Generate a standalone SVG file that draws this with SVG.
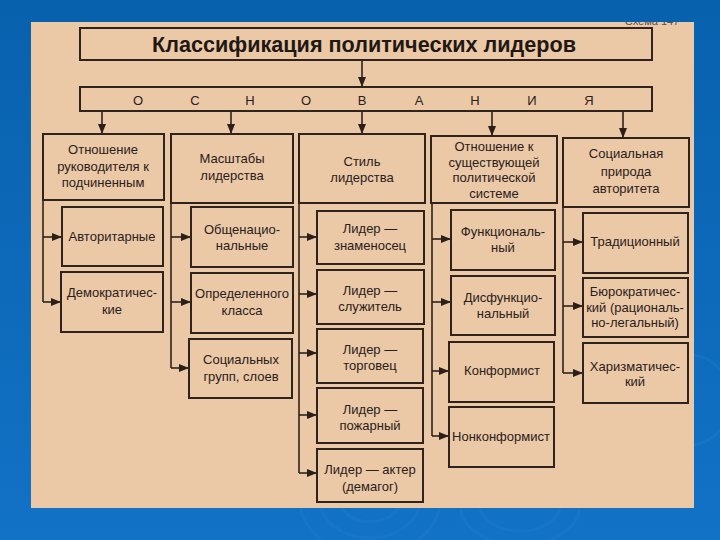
<svg xmlns="http://www.w3.org/2000/svg" width="720" height="540" viewBox="0 0 720 540">
<defs>
<linearGradient id="bg" x1="0" y1="0" x2="0" y2="1">
<stop offset="0" stop-color="#0861ad"/>
<stop offset="1" stop-color="#1272c6"/>
</linearGradient>
<marker id="ah" viewBox="0 0 10 8" refX="10" refY="4" markerWidth="11" markerHeight="8" markerUnits="userSpaceOnUse" orient="auto">
<path d="M0,0 L10,4 L0,8 Z" fill="#2a1f1a"/>
</marker>
<clipPath id="paperclip"><rect x="31" y="22" width="663" height="486"/></clipPath>
<style>
.box{fill:none;stroke:#2f231d;stroke-width:2}
.con{fill:none;stroke:#2f231d;stroke-width:1.6}
.arr{fill:none;stroke:#2f231d;stroke-width:1.6;marker-end:url(#ah)}
.t{font-family:"Liberation Sans","DejaVu Sans",sans-serif;font-size:13px;fill:#2a201b;text-anchor:middle}
.lt{font-family:"Liberation Sans","DejaVu Sans",sans-serif;font-size:13px;fill:#2a201b;text-anchor:middle}
.swirl{fill:none;stroke:#3a8ad6;stroke-width:3;opacity:0.18}
</style>
</defs>
<rect x="0" y="0" width="720" height="540" fill="url(#bg)"/>
<g id="swirls">
<ellipse class="swirl" cx="370" cy="500" rx="70" ry="55"/>
<ellipse class="swirl" cx="370" cy="500" rx="50" ry="38"/>
<ellipse class="swirl" cx="370" cy="500" rx="30" ry="22"/>
<ellipse class="swirl" cx="520" cy="505" rx="60" ry="40"/>
<ellipse class="swirl" cx="520" cy="505" rx="40" ry="26"/>
<ellipse class="swirl" cx="690" cy="400" rx="40" ry="45"/>
</g>
<rect id="paper" x="31" y="22" width="663" height="486" fill="#ebc9a7"/>
<g clip-path="url(#paperclip)">
<text x="652" y="25" style="font-family:'Liberation Sans',sans-serif;font-size:11px;fill:#5a4a54;text-anchor:middle">Схема 147</text>
</g>

<g id="title">
<rect class="box" x="80" y="28" width="572" height="32"/>
<text x="364" y="52" textLength="424" lengthAdjust="spacingAndGlyphs" style="font-family:'Liberation Sans',sans-serif;font-size:22px;font-weight:bold;fill:#1f1814;text-anchor:middle">Классификация политических лидеров</text>
</g>
<g id="osnovaniya">
<rect class="box" x="80" y="87" width="572" height="24"/>
<text class="lt" x="138" y="105">О</text>
<text class="lt" x="195" y="105">С</text>
<text class="lt" x="250" y="105">Н</text>
<text class="lt" x="306" y="105">О</text>
<text class="lt" x="362" y="105">В</text>
<text class="lt" x="419" y="105">А</text>
<text class="lt" x="475" y="105">Н</text>
<text class="lt" x="532" y="105">И</text>
<text class="lt" x="589" y="105">Я</text>
</g>

<g id="connectors">
<line class="arr" x1="362" y1="60" x2="362" y2="87"/>
<line class="arr" x1="102" y1="111" x2="102" y2="134"/>
<line class="arr" x1="231" y1="111" x2="231" y2="134"/>
<line class="arr" x1="362" y1="111" x2="362" y2="134"/>
<line class="arr" x1="492" y1="111" x2="492" y2="136"/>
<line class="arr" x1="623" y1="111" x2="623" y2="138"/>
<line class="con" x1="43" y1="200" x2="43" y2="302"/>
<line class="arr" x1="43" y1="237" x2="62" y2="237"/>
<line class="arr" x1="43" y1="302" x2="61" y2="302"/>
<line class="con" x1="171" y1="203" x2="171" y2="368"/>
<line class="arr" x1="171" y1="237" x2="191" y2="237"/>
<line class="arr" x1="171" y1="302" x2="191" y2="302"/>
<line class="arr" x1="171" y1="368" x2="189" y2="368"/>
<line class="con" x1="299" y1="203" x2="299" y2="473"/>
<line class="arr" x1="299" y1="237" x2="317" y2="237"/>
<line class="arr" x1="299" y1="294" x2="317" y2="294"/>
<line class="arr" x1="299" y1="353" x2="317" y2="353"/>
<line class="arr" x1="299" y1="415" x2="317" y2="415"/>
<line class="arr" x1="299" y1="473" x2="317" y2="473"/>
<line class="con" x1="432" y1="203" x2="432" y2="436"/>
<line class="arr" x1="432" y1="239" x2="451" y2="239"/>
<line class="arr" x1="432" y1="302" x2="451" y2="302"/>
<line class="arr" x1="432" y1="371" x2="449" y2="371"/>
<line class="arr" x1="432" y1="436" x2="449" y2="436"/>
<line class="con" x1="563" y1="207" x2="563" y2="373"/>
<line class="arr" x1="563" y1="242" x2="583" y2="242"/>
<line class="arr" x1="563" y1="306" x2="583" y2="306"/>
<line class="arr" x1="563" y1="373" x2="583" y2="373"/>
</g>

<g id="cat1">
<rect class="box" x="43" y="134" width="121" height="66"/>
<text class="t" x="103" y="154">Отношение</text>
<text class="t" x="103" y="171">руководителя к</text>
<text class="t" x="103" y="187">подчиненным</text>
</g>
<g id="cat2">
<rect class="box" x="171" y="134" width="122" height="69"/>
<text class="t" x="232" y="163">Масштабы</text>
<text class="t" x="232" y="180">лидерства</text>
</g>
<g id="cat3">
<rect class="box" x="299" y="134" width="126" height="69"/>
<text class="t" x="362" y="166">Стиль</text>
<text class="t" x="362" y="182">лидерства</text>
</g>
<g id="cat4">
<rect class="box" x="431" y="136" width="126" height="67"/>
<text class="t" x="494" y="151">Отношение к</text>
<text class="t" x="494" y="167">существующей</text>
<text class="t" x="494" y="182">политической</text>
<text class="t" x="494" y="198">системе</text>
</g>
<g id="cat5">
<rect class="box" x="563" y="138" width="126" height="69"/>
<text class="t" x="626" y="158">Социальная</text>
<text class="t" x="626" y="176">природа</text>
<text class="t" x="626" y="193">авторитета</text>
</g>

<g id="avtoritarnye">
<rect class="box" x="62" y="207" width="101" height="59"/>
<text class="t" x="112" y="241">Авторитарные</text>
</g>
<g id="demokraticheskie">
<rect class="box" x="61" y="272" width="102" height="60"/>
<text class="t" x="112" y="297">Демократичес-</text>
<text class="t" x="112" y="314">кие</text>
</g>

<g id="obshchenatsionalnye">
<rect class="box" x="191" y="207" width="102" height="60"/>
<text class="t" x="242" y="234">Общенацио-</text>
<text class="t" x="242" y="250">нальные</text>
</g>
<g id="opredelennogo-klassa">
<rect class="box" x="191" y="273" width="102" height="60"/>
<text class="t" x="242" y="298">Определенного</text>
<text class="t" x="242" y="315">класса</text>
</g>
<g id="sotsialnykh-grupp">
<rect class="box" x="189" y="339" width="103" height="59"/>
<text class="t" x="241" y="364">Социальных</text>
<text class="t" x="241" y="381">групп, слоев</text>
</g>

<g id="znamenosets">
<rect class="box" x="317" y="211" width="107" height="53"/>
<text class="t" x="370" y="233">Лидер —</text>
<text class="t" x="370" y="250">знаменосец</text>
</g>
<g id="sluzhitel">
<rect class="box" x="317" y="270" width="107" height="54"/>
<text class="t" x="370" y="295">Лидер —</text>
<text class="t" x="370" y="311">служитель</text>
</g>
<g id="torgovets">
<rect class="box" x="317" y="329" width="106" height="54"/>
<text class="t" x="370" y="354">Лидер —</text>
<text class="t" x="370" y="370">торговец</text>
</g>
<g id="pozharnyy">
<rect class="box" x="317" y="388" width="106" height="55"/>
<text class="t" x="370" y="414">Лидер —</text>
<text class="t" x="370" y="430">пожарный</text>
</g>
<g id="akter">
<rect class="box" x="317" y="449" width="106" height="53"/>
<text class="t" x="370" y="474">Лидер — актер</text>
<text class="t" x="370" y="491">(демагог)</text>
</g>

<g id="funktsionalnyy">
<rect class="box" x="451" y="210" width="104" height="60"/>
<text class="t" x="503" y="236">Функциональ-</text>
<text class="t" x="503" y="252">ный</text>
</g>
<g id="disfunktsionalnyy">
<rect class="box" x="451" y="276" width="104" height="59"/>
<text class="t" x="503" y="302">Дисфункцио-</text>
<text class="t" x="503" y="318">нальный</text>
</g>
<g id="konformist">
<rect class="box" x="449" y="342" width="105" height="60"/>
<text class="t" x="502" y="375">Конформист</text>
</g>
<g id="nonkonformist">
<rect class="box" x="449" y="407" width="105" height="60"/>
<text class="t" x="501" y="441">Нонконформист</text>
</g>

<g id="traditsionnyy">
<rect class="box" x="583" y="213" width="105" height="60"/>
<text class="t" x="635" y="246">Традиционный</text>
</g>
<g id="byurokraticheskiy">
<rect class="box" x="583" y="278" width="105" height="59"/>
<text class="t" x="635" y="296">Бюрократичес-</text>
<text class="t" x="635" y="312">кий (рациональ-</text>
<text class="t" x="635" y="327">но-легальный)</text>
</g>
<g id="kharizmaticheskiy">
<rect class="box" x="583" y="343" width="105" height="60"/>
<text class="t" x="635" y="371">Харизматичес-</text>
<text class="t" x="635" y="386">кий</text>
</g>
</svg>
